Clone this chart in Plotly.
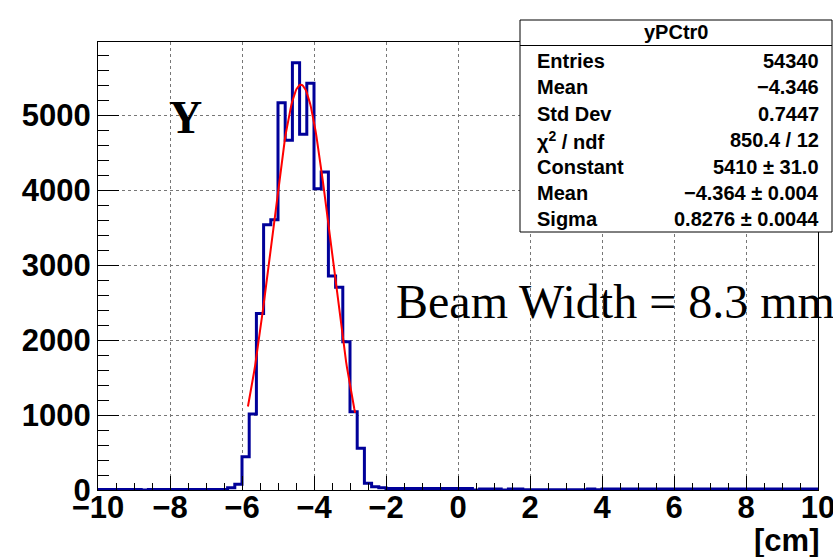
import numpy as np
import plotly.graph_objects as go

# ---- histogram yPCtr0: 100 bins of 0.2 cm between -10 and 10 ----
bin_lo, bin_hi, n_bins = -10.0, 10.0, 100

# bin contents, left to right
left_tail = [8, 8, 8, 8, 8, 8, 0, 8, 8, 8, 8, 8, 8, 8, 8, 8, 8, 8]          # -10.0 .. -6.4
core = [31, 76, 444, 1013, 2356, 3542, 3609, 5169, 4667, 5702, 4747, 5431,
        4022, 4244, 2858, 2707, 1978, 1044, 556, 89, 44, 31]               # -6.4 .. -2.0
right_tail = [20, 20, 20, 20, 20, 20, 20, 20, 20, 20, 20, 20,               # -2.0 .. 0.4
              0,                                                           # 0.4 .. 0.6
              15, 15, 15,                                                  # 0.6 .. 1.2
              0,                                                           # 1.2 .. 1.4
              12, 12,                                                      # 1.4 .. 1.8
              4, 4, 4, 4, 4, 4, 4, 4, 4,                                   # 1.8 .. 3.6
              14, 4,                                                       # 3.6 .. 4.0
              12, 12, 12, 12, 12, 12, 12, 12, 12, 12,                      # 4.0 .. 6.0
              12, 12, 12, 12, 12, 12, 12, 12, 12, 12,                      # 6.0 .. 8.0
              12, 12, 12, 12, 12, 12, 12, 12, 12, 12]                      # 8.0 .. 10.0
counts = left_tail + core + right_tail

# Gaussian fit result (from the stats box)
fit_const, fit_mean, fit_sigma = 5410.0, -4.364, 0.8276
fit_range = (-5.835, -2.857)

stats_title = "yPCtr0"
stats_rows = [
    ("Entries", "54340"),
    ("Mean", "\u22124.346"),
    ("Std Dev", "0.7447"),
    ("\u03c7<sup>2</sup> / ndf", "850.4 / 12"),
    ("Constant", "5410 \u00b1 31.0"),
    ("Mean", "\u22124.364 \u00b1 0.004"),
    ("Sigma", "0.8276 \u00b1 0.0044"),
]

x_ticks = list(range(-10, 11, 2))
y_ticks = [0, 1000, 2000, 3000, 4000, 5000]
y_max = 5980

# ---- figure geometry (pixels) ----
W, H = 833, 557
L, R, T, B = 98, 15, 42, 67
PW, PH = W - L - R, H - T - B


def px(x):
    return (x - L) / PW


def py(y):
    return (H - B - y) / PH


edges = np.linspace(bin_lo, bin_hi, n_bins + 1)
step_x = list(edges)
step_y = list(counts) + [counts[-1]]

fx = np.linspace(fit_range[0], fit_range[1], 120)
fy = fit_const * np.exp(-0.5 * ((fx - fit_mean) / fit_sigma) ** 2)

fig = go.Figure()
fig.add_trace(go.Scatter(x=step_x, y=step_y, mode="lines",
                         line=dict(shape="hv", color="rgb(0,0,153)", width=3),
                         hoverinfo="skip", showlegend=False))
fig.add_trace(go.Scatter(x=fx, y=fy, mode="lines",
                         line=dict(color="red", width=2),
                         hoverinfo="skip", showlegend=False))

tick_font = dict(family="Liberation Sans", size=31, color="black", weight="bold")
grid_kw = dict(showgrid=True, gridcolor="#777", gridwidth=1, griddash="dot",
               zeroline=False, showline=True, linecolor="black", linewidth=1,
               mirror=True, ticks="inside", tickcolor="black", tickwidth=1,
               tickfont=tick_font, ticklabeloverflow="allow", automargin=False)

fig.update_xaxes(range=[bin_lo, bin_hi], tickmode="array", tickvals=x_ticks,
                 ticktext=[("\u2212" if v < 0 else "") + str(abs(v)) for v in x_ticks],
                 ticklen=14, ticklabelstandoff=-10,
                 minor=dict(dtick=0.5, tick0=-10, ticks="inside", ticklen=7,
                            tickcolor="black", showgrid=False),
                 **grid_kw)
fig.update_yaxes(range=[0, y_max], tickmode="array", tickvals=y_ticks,
                 ticktext=[str(v) for v in y_ticks], ticklen=21,
                 minor=dict(dtick=200, tick0=0, ticks="inside", ticklen=11,
                            tickcolor="black", showgrid=False),
                 **grid_kw)

shapes = []
annotations = []

# stats box
bx0, bx1, by0, by1, sep = 520, 832, 20, 232, 45.5
shapes.append(dict(type="rect", xref="paper", yref="paper",
                   x0=px(bx0), x1=px(bx1), y0=py(by1), y1=py(by0),
                   line=dict(color="black", width=1), fillcolor="white", layer="above"))
shapes.append(dict(type="line", xref="paper", yref="paper",
                   x0=px(bx0), x1=px(bx1), y0=py(sep), y1=py(sep),
                   line=dict(color="black", width=1), layer="above"))

stat_font = dict(family="Liberation Sans", size=20, color="black", weight="bold")
annotations.append(dict(xref="paper", yref="paper", x=px((bx0 + bx1) / 2), y=py(32.5),
                        text=stats_title, showarrow=False, xanchor="center",
                        yanchor="middle", font=stat_font))
row_y = [61, 87, 114, 140, 167, 193, 219]
for (lab, val), ry in zip(stats_rows, row_y):
    annotations.append(dict(xref="paper", yref="paper", x=px(535), y=py(ry),
                            text=lab, showarrow=False, xanchor="left",
                            yanchor="middle", font=stat_font))
    annotations.append(dict(xref="paper", yref="paper", x=px(821), y=py(ry),
                            text=val, showarrow=False, xanchor="right",
                            yanchor="middle", font=stat_font))

# panel label and beam width note
annotations.append(dict(xref="paper", yref="paper", x=px(185), y=py(118),
                        text="Y", showarrow=False, xanchor="center", yanchor="middle",
                        font=dict(family="Liberation Serif", size=46, color="black",
                                  weight="bold")))
annotations.append(dict(xref="paper", yref="paper", x=px(394), y=py(301),
                        text="Beam Width = 8.3 mm", showarrow=False, xanchor="left",
                        yanchor="middle",
                        font=dict(family="Liberation Serif", size=48, color="black")))

# x-axis title
annotations.append(dict(xref="paper", yref="paper", x=px(821), y=py(540),
                        text="[cm]", showarrow=False, xanchor="right", yanchor="middle",
                        font=dict(family="Liberation Sans", size=31, color="black",
                                  weight="bold")))

fig.update_layout(width=W, height=H, margin=dict(l=L, r=R, t=T, b=B, pad=0),
                  paper_bgcolor="white", plot_bgcolor="white",
                  shapes=shapes, annotations=annotations, showlegend=False)

fig.write_html("out.html")
